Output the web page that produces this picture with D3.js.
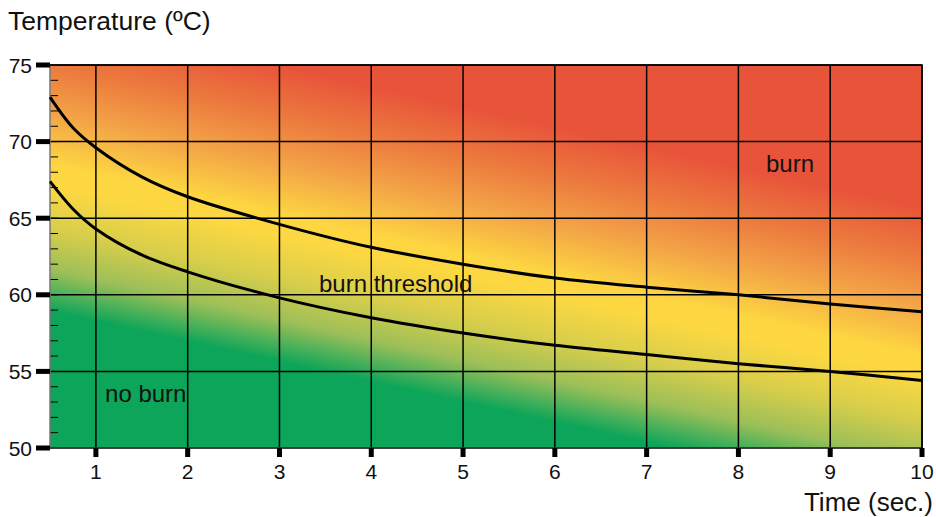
<!DOCTYPE html>
<html>
<head>
<meta charset="utf-8">
<script src="https://cdn.jsdelivr.net/npm/d3@7"></script>
<style>
  body { margin: 0; background: #fff; }
  svg text { font-family: "Liberation Sans", Arial, sans-serif; fill: #111; }
</style>
</head>
<body>
<div id="chart"></div>
<script>
// datos
var time = [0.5, 0.75, 1, 1.5, 2, 3, 4, 5, 6, 7, 8, 9, 10];
var upperCurve = [72.9, 70.9, 69.6, 67.7, 66.4, 64.6, 63.1, 62.0, 61.1, 60.5, 60.0, 59.4, 58.9];
var lowerCurve = [67.4, 65.6, 64.3, 62.6, 61.5, 59.8, 58.5, 57.5, 56.7, 56.1, 55.5, 55.0, 54.4];
var xTicks = [1, 2, 3, 4, 5, 6, 7, 8, 9, 10];
var yTicks = [50, 55, 60, 65, 70, 75];
var zoneLabels = [
  { text: "no burn", t: 1.1, temp: 53.0 },
  { text: "burn threshold", t: 3.43, temp: 60.2 },
  { text: "burn", t: 8.3, temp: 68.0 }
];

// Dimensiones
var W = 936, H = 517;
var margin = { top: 65, right: 14, bottom: 69, left: 50 },
  width = W - margin.left - margin.right,
  height = H - margin.top - margin.bottom;

var svg = d3.select("#chart").append("svg")
  .attr("width", W).attr("height", H);

var x = d3.scaleLinear().domain([0.5, 10]).range([0, width]);
var y = d3.scaleLinear().domain([50, 75]).range([height, 0]);

// degradado de fondo (rojo -> naranja -> amarillo -> verde)
var slope = 0.22, sRed = -49, sGreen = 246;
var len = (sGreen - sRed) / (1 + slope * slope);
var grad = svg.append("defs").append("linearGradient")
  .attr("id", "bg")
  .attr("gradientUnits", "userSpaceOnUse")
  .attr("x1", 0).attr("y1", sRed)
  .attr("x2", -slope * len).attr("y2", sRed + len);
var stops = [
  [0, "#e8543a"], [0.17, "#ec7a3e"], [0.33, "#f3a447"],
  [0.5, "#fdd641"], [0.57, "#fdd841"], [0.72, "#d8ce4b"],
  [0.86, "#9cbf58"], [1, "#0ca55a"]
];
grad.selectAll("stop").data(stops).enter().append("stop")
  .attr("offset", function (d) { return d[0]; })
  .attr("stop-color", function (d) { return d[1]; });

var g = svg.append("g")
  .attr("transform", "translate(" + margin.left + "," + margin.top + ")");

g.append("rect")
  .attr("width", width).attr("height", height)
  .attr("fill", "url(#bg)");

// rejilla
g.append("g").selectAll("line").data(xTicks).enter().append("line")
  .attr("x1", x).attr("x2", x).attr("y1", 0).attr("y2", height)
  .attr("stroke", "#000").attr("stroke-width", 1.5);
g.append("g").selectAll("line").data(yTicks).enter().append("line")
  .attr("x1", 0).attr("x2", width).attr("y1", y).attr("y2", y)
  .attr("stroke", "#000").attr("stroke-width", 1.5);

// marcas menores (cada grado)
g.append("g").selectAll("line").data(d3.range(51, 75)).enter().append("line")
  .attr("x1", 0).attr("x2", 8).attr("y1", y).attr("y2", y)
  .attr("stroke", "#000").attr("stroke-width", 1);

// bordes
g.append("line").attr("x1", 0).attr("x2", 0).attr("y1", 0).attr("y2", height)
  .attr("stroke", "#777").attr("stroke-width", 1.5);
g.append("line").attr("x1", 0).attr("x2", width).attr("y1", height).attr("y2", height)
  .attr("stroke", "#444").attr("stroke-width", 1.5);

// curvas
var line = d3.line().curve(d3.curveCatmullRom.alpha(0.5))
  .x(function (d, i) { return x(time[i]); })
  .y(function (d) { return y(d); });
[upperCurve, lowerCurve].forEach(function (c) {
  g.append("path").datum(c).attr("d", line)
    .attr("fill", "none").attr("stroke", "#000").attr("stroke-width", 3);
});

// Eje Y
var yAxis = g.append("g");
yAxis.selectAll("rect").data(yTicks).enter().append("rect")
  .attr("x", -14).attr("y", function (d) { return y(d) - 2.5; })
  .attr("width", 14).attr("height", 5).attr("fill", "#000");
yAxis.selectAll("text").data(yTicks).enter().append("text")
  .attr("x", -18).attr("y", function (d) { return y(d) + 7.5; })
  .attr("text-anchor", "end").attr("font-size", "21px")
  .text(function (d) { return d; });

// Eje X
var xAxis = g.append("g").attr("transform", "translate(0," + height + ")");
xAxis.selectAll("rect").data(xTicks).enter().append("rect")
  .attr("x", function (d) { return x(d) - 2.5; }).attr("y", 0)
  .attr("width", 5).attr("height", 9).attr("fill", "#000");
xAxis.selectAll("text").data(xTicks).enter().append("text")
  .attr("x", x).attr("y", 31)
  .attr("text-anchor", "middle").attr("font-size", "21px")
  .text(function (d) { return d; });

// borde superior y derecho
g.append("path")
  .attr("d", "M0,0H" + width + "V" + height)
  .attr("fill", "none").attr("stroke", "#000").attr("stroke-width", 1.5);

// etiquetas de zonas
g.selectAll(".zone").data(zoneLabels).enter().append("text")
  .attr("class", "zone")
  .attr("x", function (d) { return x(d.t); })
  .attr("y", function (d) { return y(d.temp); })
  .attr("font-size", "24px")
  .text(function (d) { return d.text; });

// titulos de ejes
svg.append("text").attr("x", 8).attr("y", 30)
  .attr("font-size", "26.5px").text("Temperature (ºC)");
svg.append("text").attr("x", 933).attr("y", 511)
  .attr("text-anchor", "end").attr("font-size", "26px").text("Time (sec.)");
</script>
</body>
</html>
